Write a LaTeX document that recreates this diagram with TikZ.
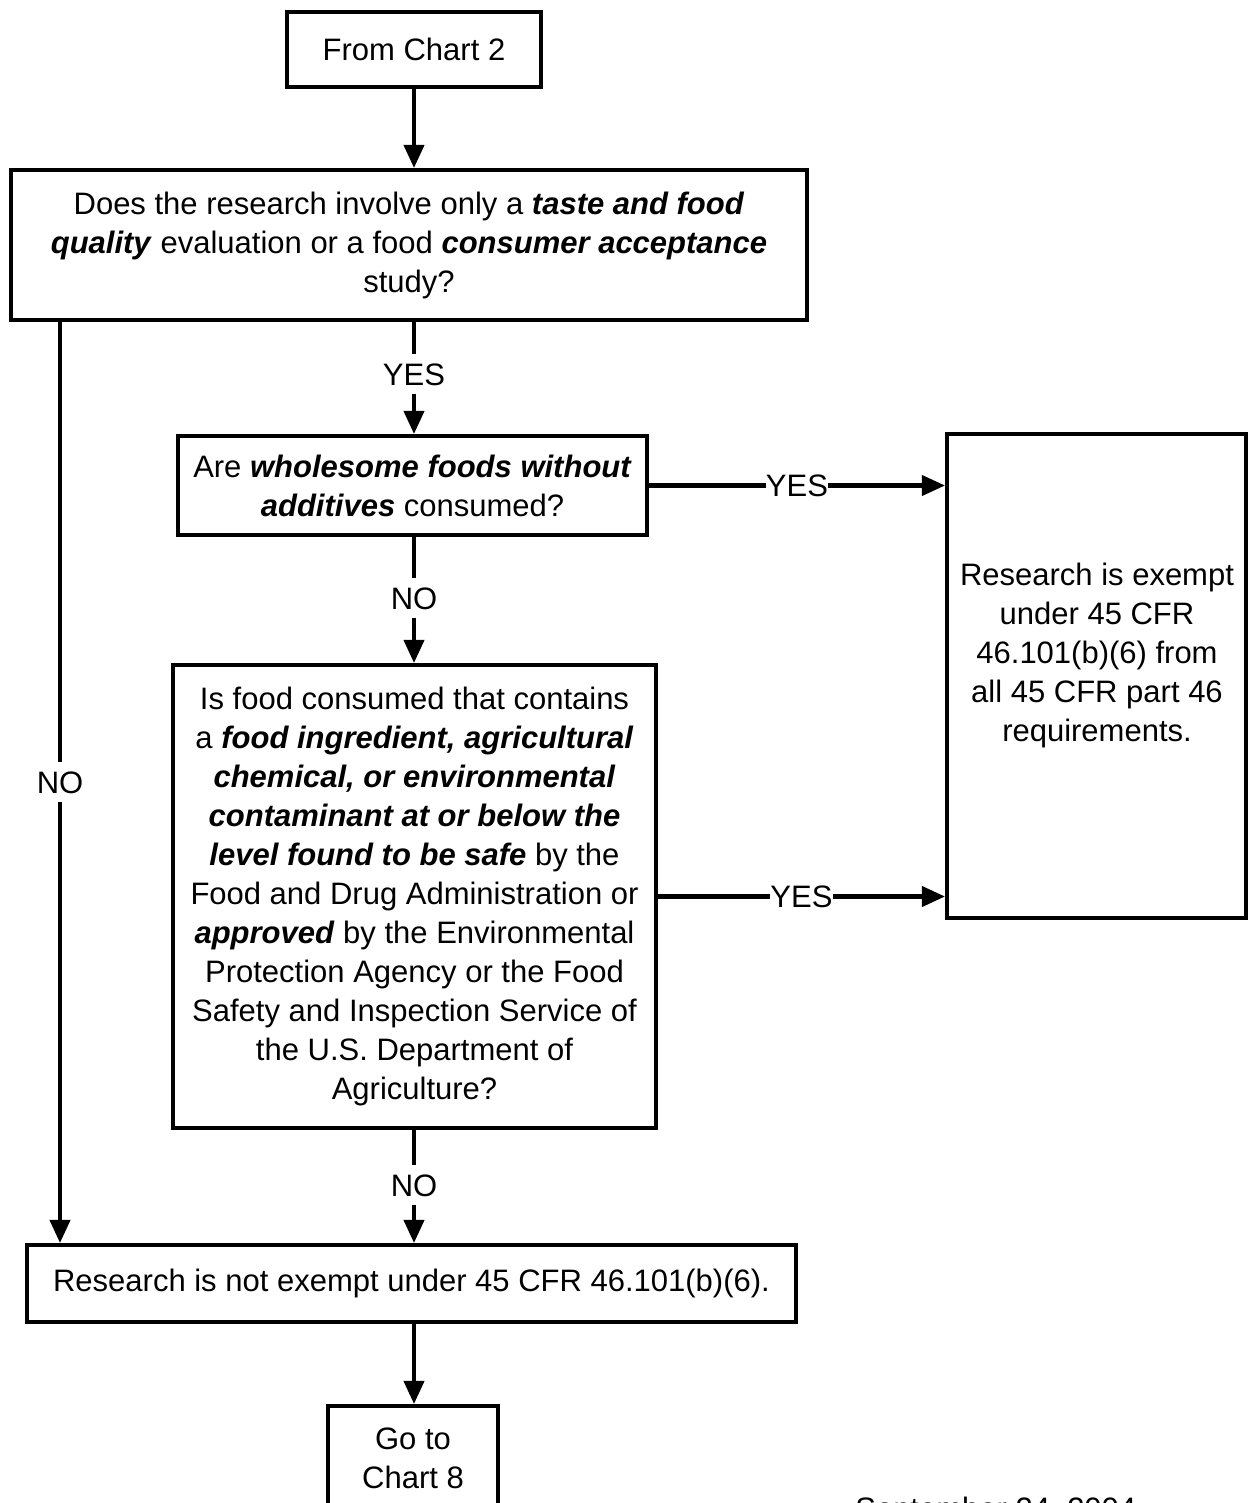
\documentclass[tikz,border=0pt]{standalone}
\usepackage{fontspec}
\setmainfont{Liberation Sans}
\usetikzlibrary{arrows.meta,calc}
\begin{document}
\def\u{0.6pt}
\begin{tikzpicture}[x=0.6pt,y=-0.6pt,
  txt/.style={font=\fontsize{18.6}{23.4}\selectfont},
  box/.style={draw, line width=2.3pt, inner sep=0pt, align=center, txt},
  conn/.style={line width=2.7pt, -{Triangle[length=14pt,width=12pt]}},
  plain/.style={line width=2.7pt},
  lbl/.style={txt, inner sep=0pt, text height=13.5pt, text depth=0pt}]
\useasboundingbox (0,0) rectangle (1248,1503);
\node[box, minimum width=254*\u, minimum height=75*\u] (from) at (414,49.5) {From Chart 2};
\node[box, minimum width=796*\u, minimum height=150*\u] (q1) at (409,245)
  {Does the research involve only a \textbf{\textit{taste and food}}\\
   \textbf{\textit{quality}} evaluation or a food \textbf{\textit{consumer acceptance}}\\
   study?};
\node[box, minimum width=469*\u, minimum height=99*\u] (q2) at (412.5,485.5)
  {Are \textbf{\textit{wholesome foods without}}\\
   \textbf{\textit{additives}} consumed?};
\node[box, minimum width=483*\u, minimum height=463*\u] (q3) at (414.5,896.5)
  {Is food consumed that contains\\
   a \textbf{\textit{food ingredient, agricultural}}\\
   \textbf{\textit{chemical, or environmental}}\\
   \textbf{\textit{contaminant at or below the}}\\
   \textbf{\textit{level found to be safe}} by the\\
   Food and Drug Administration or\\
   \textbf{\textit{approved}} by the Environmental\\
   Protection Agency or the Food\\
   Safety and Inspection Service of\\
   the U.S. Department of\\
   Agriculture?};
\node[box, minimum width=299*\u, minimum height=484*\u] (ex) at (1096.5,676) {};
\node[txt, align=center, inner sep=0pt] (extxt) at (1097,655)
  {Research is exempt\\ under 45 CFR\\ 46.101(b)(6) from\\ all 45 CFR part 46\\ requirements.};
\node[box, minimum width=769*\u, minimum height=77*\u] (ne) at (411.5,1283.5)
  {Research is not exempt under 45 CFR 46.101(b)(6).};
\node[box, minimum width=170*\u, minimum height=104*\u] (go) at (413,1458)
  {Go to\\ Chart 8};
\node[txt, anchor=base west, inner sep=0pt] (date) at (855,1519) {September 24, 2004};
\coordinate (ax) at (414,0);
\coordinate (lx) at (60,0);
% labels
\node[lbl] (yes1) at (414,374) {YES};
\node[lbl] (no1) at (414,598) {NO};
\node[lbl] (no2) at (414,1185) {NO};
\node[lbl] (no3) at (60,782) {NO};
\node[lbl] (yes2) at ($(q2.east)!0.5!(q2.east -| ex.west)$) {YES};
\node[lbl] (yes3) at ($(q3.east)!0.5!(q3.east -| ex.west)$) {YES};
% connectors
\draw[conn] (from.south -| ax) -- (q1.north -| ax);
\draw[plain] (q1.south -| ax) -- ([yshift=8*\u]yes1.north);
\draw[conn] ([yshift=-8*\u]yes1.south) -- (q2.north -| ax);
\draw[plain] (q2.south -| ax) -- ([yshift=8*\u]no1.north);
\draw[conn] ([yshift=-8*\u]no1.south) -- (q3.north -| ax);
\draw[plain] (q3.south -| ax) -- ([yshift=8*\u]no2.north);
\draw[conn] ([yshift=-8*\u]no2.south) -- (ne.north -| ax);
\draw[conn] (ne.south -| ax) -- (go.north -| ax);
\draw[plain] (q1.south -| lx) -- ([yshift=8*\u]no3.north);
\draw[conn] ([yshift=-8*\u]no3.south) -- (ne.north -| lx);
\draw[plain] (q2.east) -- (yes2.west |- q2.east);
\draw[conn] (yes2.east |- q2.east) -- (q2.east -| ex.west);
\draw[plain] (q3.east) -- (yes3.west |- q3.east);
\draw[conn] (yes3.east |- q3.east) -- (q3.east -| ex.west);
\end{tikzpicture}
\end{document}
